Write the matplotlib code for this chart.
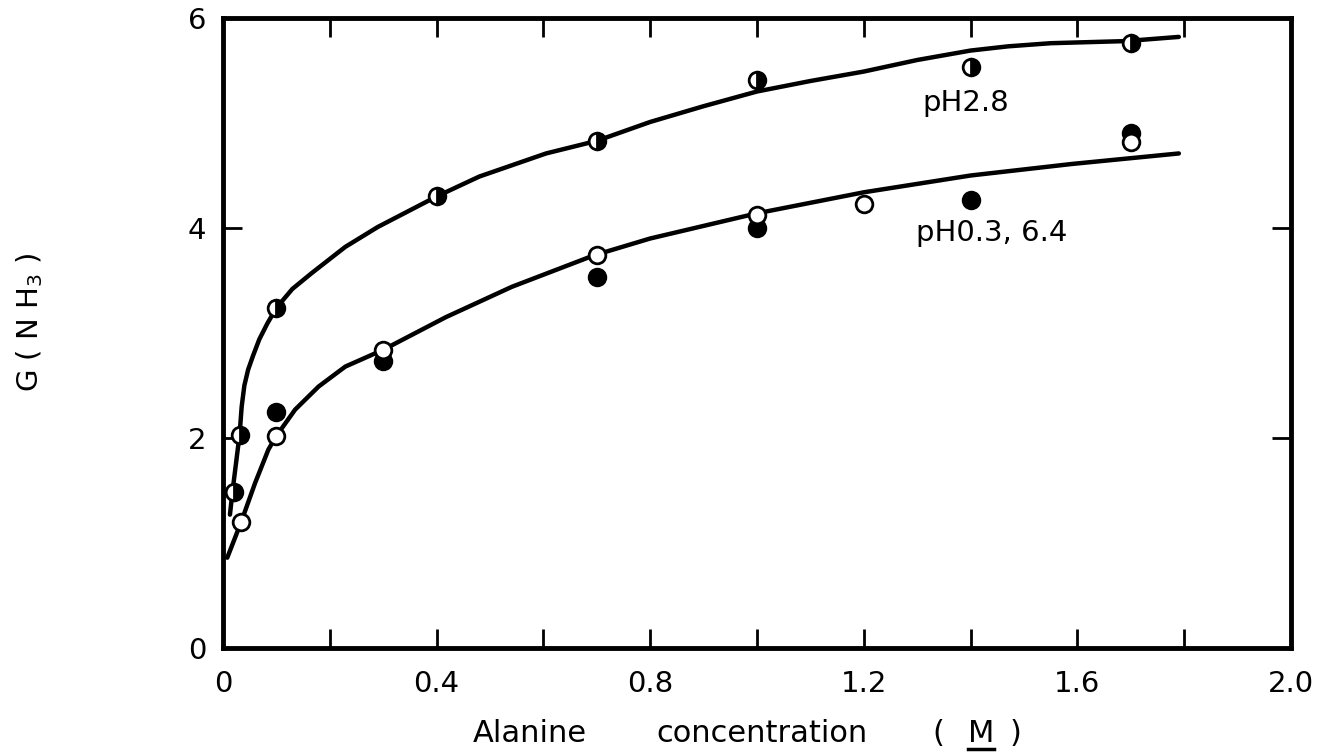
import matplotlib.pyplot as plt
from matplotlib.lines import Line2D

# measured points, G(NH3) vs alanine concentration (M)
conc_half = [0.02, 0.031, 0.10, 0.40, 0.70, 1.00, 1.40, 1.70]      # pH 2.8
g_half = [1.49, 2.03, 3.24, 4.30, 4.83, 5.41, 5.53, 5.76]

conc_open = [0.034, 0.10, 0.30, 0.70, 1.00, 1.20, 1.70]           # pH 0.3
g_open = [1.20, 2.02, 2.84, 3.74, 4.12, 4.23, 4.82]

conc_filled = [0.10, 0.30, 0.70, 1.00, 1.40, 1.70]                # pH 6.4
g_filled = [2.25, 2.73, 3.53, 4.00, 4.27, 4.90]

# hand-drawn curves
curve_hi_x = [0.013, 0.018, 0.031, 0.035, 0.040, 0.047, 0.056, 0.068, 0.083,
              0.100, 0.130, 0.166, 0.229, 0.290, 0.400, 0.480, 0.605, 0.700,
              0.800, 0.900, 1.000, 1.100, 1.200, 1.300, 1.400, 1.470, 1.550,
              1.690, 1.790]
curve_hi_y = [1.27, 1.50, 2.03, 2.30, 2.50, 2.65, 2.78, 2.94, 3.09,
              3.24, 3.42, 3.57, 3.82, 4.01, 4.30, 4.49, 4.71, 4.83,
              5.01, 5.16, 5.30, 5.40, 5.49, 5.60, 5.69, 5.73, 5.76,
              5.78, 5.82]

curve_lo_x = [0.008, 0.034, 0.060, 0.085, 0.100, 0.135, 0.179, 0.229, 0.300,
              0.417, 0.541, 0.695, 0.800, 1.000, 1.200, 1.400, 1.590, 1.790]
curve_lo_y = [0.86, 1.20, 1.57, 1.89, 2.02, 2.27, 2.49, 2.68, 2.84,
              3.15, 3.44, 3.74, 3.90, 4.14, 4.34, 4.50, 4.61, 4.71]

x_ticks = [0, 0.2, 0.4, 0.6, 0.8, 1.0, 1.2, 1.4, 1.6, 1.8, 2.0]
x_labels = ["0", "", "0.4", "", "0.8", "", "1.2", "", "1.6", "", "2.0"]
y_ticks = [0, 2, 4, 6]

plt.rcParams['font.family'] = 'DejaVu Sans'

W, H = 1344, 756
fig = plt.figure(figsize=(W / 100, H / 100), dpi=100)
ax = fig.add_axes([223 / W, 1 - 648 / H, (1291 - 223) / W, (648 - 18) / H])

ax.plot(curve_hi_x, curve_hi_y, color='black', lw=3.2, solid_capstyle='round',
        solid_joinstyle='round', zorder=2)
ax.plot(curve_lo_x, curve_lo_y, color='black', lw=3.2, solid_capstyle='round',
        solid_joinstyle='round', zorder=2)

ax.plot(conc_half, g_half, 'o', ms=12, mew=2, mec='black', fillstyle='right',
        mfc='black', markerfacecoloralt='white', zorder=3)
ax.plot(conc_filled, g_filled, 'o', ms=12, mew=2, mec='black', mfc='black', zorder=3)
ax.plot(conc_open, g_open, 'o', ms=12, mew=2, mec='black', mfc='white', zorder=4)

ax.text(1.39, 5.19, "pH2.8", fontsize=21, ha='center', va='center')
ax.text(1.44, 3.95, "pH0.3, 6.4", fontsize=21, ha='center', va='center')

ax.set_xlim(0, 2.0)
ax.set_ylim(0, 6)
ax.set_xticks(x_ticks)
ax.set_xticklabels(x_labels)
ax.set_yticks(y_ticks)

ax.tick_params(direction='in', length=14, width=2, top=True, right=True, labelsize=21)
ax.tick_params(axis='x', pad=16)
ax.tick_params(axis='y', pad=12)
for s in ax.spines.values():
    s.set_linewidth(3.5)

# x label, spread out like the original lettering
ly = 1 - 733 / H
fig.text(530 / W, ly, "Alanine", fontsize=22, ha='center', va='center')
fig.text(762 / W, ly, "concentration", fontsize=22, ha='center', va='center')
fig.text(938 / W, ly, "(", fontsize=22, ha='center', va='center')
m_txt = fig.text(981 / W, ly, "M", fontsize=22, ha='center', va='center')
fig.text(1016 / W, ly, ")", fontsize=22, ha='center', va='center')

fig.text(30 / W, 1 - 322 / H, r"G ( N H$_3$ )", fontsize=21, rotation=90,
         ha='center', va='center')

# underline the M (molar)
fig.canvas.draw()
bb = m_txt.get_window_extent(fig.canvas.get_renderer())
uy = (bb.y0 - 1) / H
fig.add_artist(Line2D([bb.x0 / W, bb.x1 / W], [uy, uy],
                      transform=fig.transFigure, color='black', lw=2.5))

fig.savefig("out.png", dpi=100)
